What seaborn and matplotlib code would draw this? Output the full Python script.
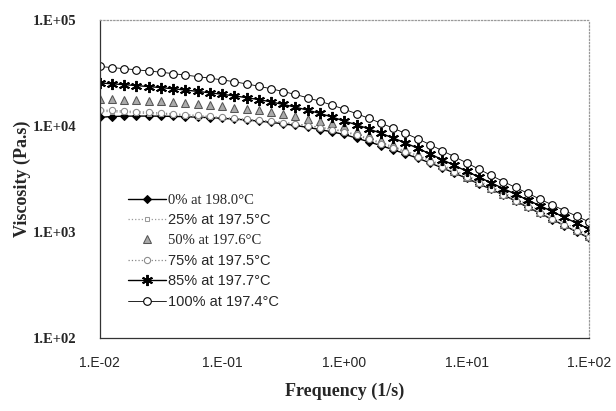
import numpy as np
import pandas as pd
import seaborn as sns
import matplotlib
matplotlib.use("Agg")
import matplotlib.pyplot as plt
from matplotlib.ticker import FuncFormatter, LogLocator, NullLocator

# frequency (1/s), 10 points per decade from 1E-02 to 1E+02
freq = [10 ** (e / 10) for e in range(-20, 21)]

visc_0 = [12080, 12300, 12390, 12420, 12420, 12390, 12330, 12250, 12130, 12000,
          11830, 11640, 11400, 11140, 10840, 10500, 10120, 9710, 9270, 8810,
          8320, 7690, 7100, 6530, 5980, 5460, 4970, 4490, 4030, 3600,
          3210, 2850, 2530, 2240, 1960, 1710, 1500, 1310, 1150, 1000, 880]
visc_25 = [13800, 13650, 13490, 13300, 13120, 12910, 12710, 12500, 12270, 12050,
           11830, 11640, 11480, 11300, 11070, 10790, 10470, 10120, 9770, 9380,
           8970, 8300, 7640, 7000, 6400, 5830, 5300, 4790, 4290, 3830,
           3410, 3030, 2680, 2370, 2070, 1820, 1590, 1390, 1220, 1070, 930]
visc_50 = [18070, 17910, 17740, 17540, 17340, 17100, 16830, 16520, 16180, 15810,
           15420, 14960, 14490, 14030, 13520, 12970, 12390, 11780, 11220, 10620,
           10000, 9060, 8200, 7430, 6730, 6100, 5500, 4860, 4290, 3780,
           3330, 2940, 2590, 2290, 2010, 1760, 1550, 1350, 1190, 1040, 910]
visc_75 = [14190, 14030, 13870, 13680, 13490, 13270, 13060, 12820, 12590, 12330,
           12080, 11830, 11590, 11350, 11090, 10790, 10450, 10070, 9680, 9270,
           8830, 8150, 7480, 6840, 6240, 5660, 5120, 4600, 4120, 3670,
           3270, 2890, 2550, 2250, 1970, 1730, 1510, 1320, 1160, 1010, 890]
visc_85 = [25530, 25060, 24600, 24100, 23600, 23070, 22490, 21880, 21230, 20610,
           19950, 19280, 18530, 17780, 16900, 16000, 15070, 14130, 13150, 12160,
           11140, 10280, 9400, 8530, 7710, 6920, 6170, 5460, 4820, 4250,
           3740, 3300, 2910, 2570, 2270, 2000, 1770, 1560, 1370, 1210, 1070]
visc_100 = [36500, 35650, 34800, 33960, 33110, 32210, 31260, 30270, 29310, 28310,
            27290, 26180, 25000, 23770, 22490, 21180, 19860, 18490, 17140, 15780,
            14390, 13090, 11830, 10640, 9550, 8510, 7590, 6680, 5860, 5130,
            4490, 3920, 3420, 2990, 2630, 2320, 2040, 1800, 1590, 1410, 1245]

labels = ["0% at 198.0°C", "25% at 197.5°C", "50% at 197.6°C",
          "75% at 197.5°C", "85% at 197.7°C", "100% at 197.4°C"]

sns.set_style("white")

fig = plt.figure(figsize=(6.16, 4.11), dpi=100)
ax = fig.add_axes([0.162, 0.178, 0.794, 0.773])

styles = [
    dict(marker="D", color="black", linestyle="-", linewidth=1.0,
         markersize=4.5, mfc="black", mec="black"),
    dict(marker="s", color="#999999", linestyle=":", linewidth=0.9,
         markersize=3.5, mfc="white", mec="#999999"),
    dict(marker="^", color="#777777", linestyle="none",
         markersize=5.5, mfc="#aaaaaa", mec="#555555"),
    dict(marker="o", color="#888888", linestyle=":", linewidth=0.9,
         markersize=4.5, mfc="white", mec="#888888"),
    dict(marker=(6, 2, 0), color="black", linestyle="-", linewidth=1.0,
         markersize=8, mfc="black", mec="black", mew=1.4),
    dict(marker="o", color="black", linestyle="-", linewidth=0.6,
         markersize=5.5, mfc="white", mec="black", mew=0.8),
]
series = [visc_0, visc_25, visc_50, visc_75, visc_85, visc_100]

for vals, lab, st in zip(series, labels, styles):
    df = pd.DataFrame({"f": freq, "v": vals})
    sns.lineplot(data=df, x="f", y="v", ax=ax, label=lab, **st)

ax.set_xscale("log")
ax.set_yscale("log")
ax.set_xlim(0.01, 100)
ax.set_ylim(100, 100000)

fmt = FuncFormatter(lambda v, p: "1.E{:+03d}".format(int(round(np.log10(v)))))
ax.xaxis.set_major_locator(LogLocator(base=10, numticks=10))
ax.yaxis.set_major_locator(LogLocator(base=10, numticks=10))
ax.xaxis.set_minor_locator(NullLocator())
ax.yaxis.set_minor_locator(NullLocator())
ax.xaxis.set_major_formatter(fmt)
ax.yaxis.set_major_formatter(fmt)
ax.tick_params(direction="in", length=4, width=0.8, color="#444444")
ax.tick_params(axis="x", pad=13)
ax.tick_params(axis="y", pad=17)

for t in ax.get_xticklabels():
    t.set_fontfamily("Liberation Sans")
    t.set_fontsize(10)
for t in ax.get_yticklabels():
    t.set_fontfamily("Liberation Serif")
    t.set_fontsize(10.5)
    t.set_fontweight("bold")

ax.set_xlabel("Frequency (1/s)", fontfamily="Liberation Serif",
              fontweight="bold", fontsize=13, labelpad=9)
ax.set_ylabel("Viscosity (Pa.s)", fontfamily="Liberation Serif",
              fontweight="bold", fontsize=13, labelpad=1)

for side in ["top", "right"]:
    ax.spines[side].set_linestyle(":")
    ax.spines[side].set_color("#999999")
    ax.spines[side].set_linewidth(0.9)
for side in ["left", "bottom"]:
    ax.spines[side].set_color("#333333")
    ax.spines[side].set_linewidth(0.9)

leg = ax.legend(loc="lower left", bbox_to_anchor=(0.03, 0.05), frameon=False,
                handlelength=2.6, handletextpad=0.2, labelspacing=0.45,
                fontsize=10.5)
for i, t in enumerate(leg.get_texts()):
    if i in (0, 2):
        t.set_fontfamily("Liberation Serif")
    else:
        t.set_fontfamily("Liberation Sans")

fig.savefig("out.png", dpi=100)
